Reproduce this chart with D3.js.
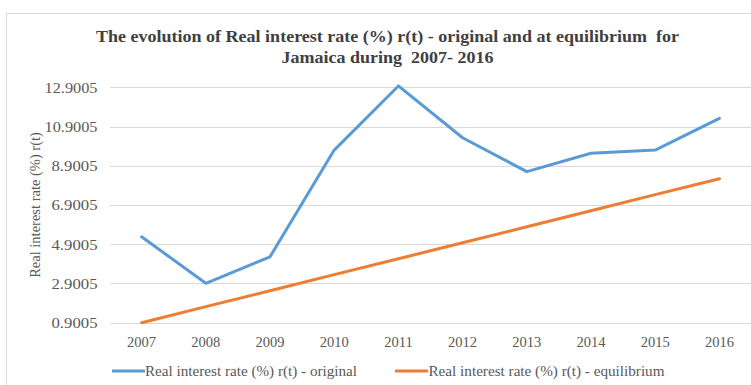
<!DOCTYPE html>
<html>
<head>
<meta charset="utf-8">
<script src="https://cdn.jsdelivr.net/npm/d3@7/dist/d3.min.js"></script>
<style>
  html, body { margin: 0; padding: 0; background: #ffffff; }
  svg { display: block; }
  text { font-family: "Liberation Serif", "Times New Roman", serif; }
</style>
</head>
<body>
<svg id="chart" width="751" height="385"></svg>
<script>
// Years on the horizontal axis
const years = ["2007", "2008", "2009", "2010", "2011", "2012", "2013", "2014", "2015", "2016"];
// Real interest rate (%) r(t) - original
const original = [5.28, 2.91, 4.26, 9.70, 12.97, 10.33, 8.60, 9.54, 9.70, 11.32];
// Real interest rate (%) r(t) - equilibrium
const equilibrium = [0.9005, 1.72, 2.53, 3.35, 4.16, 4.98, 5.79, 6.61, 7.43, 8.24];
// Value axis ticks
const yTicks = [0.9005, 2.9005, 4.9005, 6.9005, 8.9005, 10.9005, 12.9005];

const seriesNames = ["Real interest rate (%) r(t) - original", "Real interest rate (%) r(t) - equilibrium"];
const titleLines = ["The evolution of Real interest rate (%) r(t) - original and at equilibrium  for", "Jamaica during  2007- 2016"];
const yTitle = "Real interest rate (%) r(t)";

const colors = ["#5b9bd5", "#ed7d31"];
const textColor = "#595959";

const svg = d3.select("#chart");

// chart frame
svg.append("rect")
  .attr("x", 6.5).attr("y", 13.5)
  .attr("width", 800).attr("height", 420)
  .attr("fill", "#ffffff")
  .attr("stroke", "#d9d9d9")
  .attr("stroke-width", 1);

const plot = { left: 109.5, right: 751.5, top: 87.3, bottom: 322.7 };

const x = d3.scaleBand().domain(years).range([plot.left, plot.right]).padding(0);
const y = d3.scaleLinear().domain([0.9005, 12.9005]).range([plot.bottom, plot.top]);

// horizontal gridlines + value labels
const yAxis = d3.axisLeft(y)
  .tickValues(yTicks)
  .tickFormat(d3.format(".4f"))
  .tickSize(-(plot.right - plot.left))
  .tickPadding(12);

const gy = svg.append("g")
  .attr("transform", `translate(${plot.left},0)`)
  .call(yAxis)
  .attr("font-family", null);
gy.select(".domain").remove();
gy.selectAll(".tick line")
  .attr("stroke", "#d9d9d9")
  .attr("stroke-width", 1)
  .attr("shape-rendering", "crispEdges");
gy.selectAll(".tick text")
  .attr("fill", textColor)
  .attr("font-size", 15)
  .attr("textLength", 53)
  .attr("lengthAdjust", "spacingAndGlyphs")
  .each(function () {
    // shorter labels keep natural proportions
    const t = d3.select(this);
    if (t.text().length < 7) t.attr("textLength", 46);
  });

// category labels
const xAxis = d3.axisBottom(x).tickSize(0).tickPadding(0);
const gx = svg.append("g")
  .attr("transform", `translate(0,${plot.bottom})`)
  .call(xAxis)
  .attr("font-family", null);
gx.select(".domain").remove();
gx.selectAll(".tick text")
  .attr("fill", textColor)
  .attr("font-size", 14.5)
  .attr("dy", null)
  .attr("y", 24);

// series lines
const line = d3.line()
  .x((d, i) => x(years[i]) + x.bandwidth() / 2)
  .y(d => y(d));

[original, equilibrium].forEach((vals, k) => {
  svg.append("path")
    .datum(vals)
    .attr("d", line)
    .attr("fill", "none")
    .attr("stroke", colors[k])
    .attr("stroke-width", 3)
    .attr("stroke-linejoin", "round")
    .attr("stroke-linecap", "round");
});

// title
const titleWidths = [583, 212];
const titleY = [41.5, 63.3];
titleLines.forEach((s, i) => {
  svg.append("text")
    .attr("x", 387.5).attr("y", titleY[i])
    .attr("text-anchor", "middle")
    .attr("font-weight", "bold")
    .attr("font-size", 17)
    .attr("fill", "#404040")
    .attr("textLength", titleWidths[i])
    .attr("lengthAdjust", "spacingAndGlyphs")
    .style("white-space", "pre")
    .text(s);
});

// value axis title
svg.append("text")
  .attr("transform", "translate(40,205) rotate(-90)")
  .attr("text-anchor", "middle")
  .attr("font-size", 14.5)
  .attr("fill", textColor)
  .text(yTitle);

// legend
const legendItems = [
  { x0: 112, x1: 145, tx: 145, w: 212 },
  { x0: 395, x1: 428, tx: 428.5, w: 236 }
];
legendItems.forEach((it, k) => {
  svg.append("line")
    .attr("x1", it.x0).attr("x2", it.x1)
    .attr("y1", 371).attr("y2", 371)
    .attr("stroke", colors[k])
    .attr("stroke-width", 3);
  svg.append("text")
    .attr("x", it.tx).attr("y", 375.5)
    .attr("font-size", 15)
    .attr("fill", textColor)
    .attr("textLength", it.w)
    .attr("lengthAdjust", "spacingAndGlyphs")
    .text(seriesNames[k]);
});
</script>
</body>
</html>
